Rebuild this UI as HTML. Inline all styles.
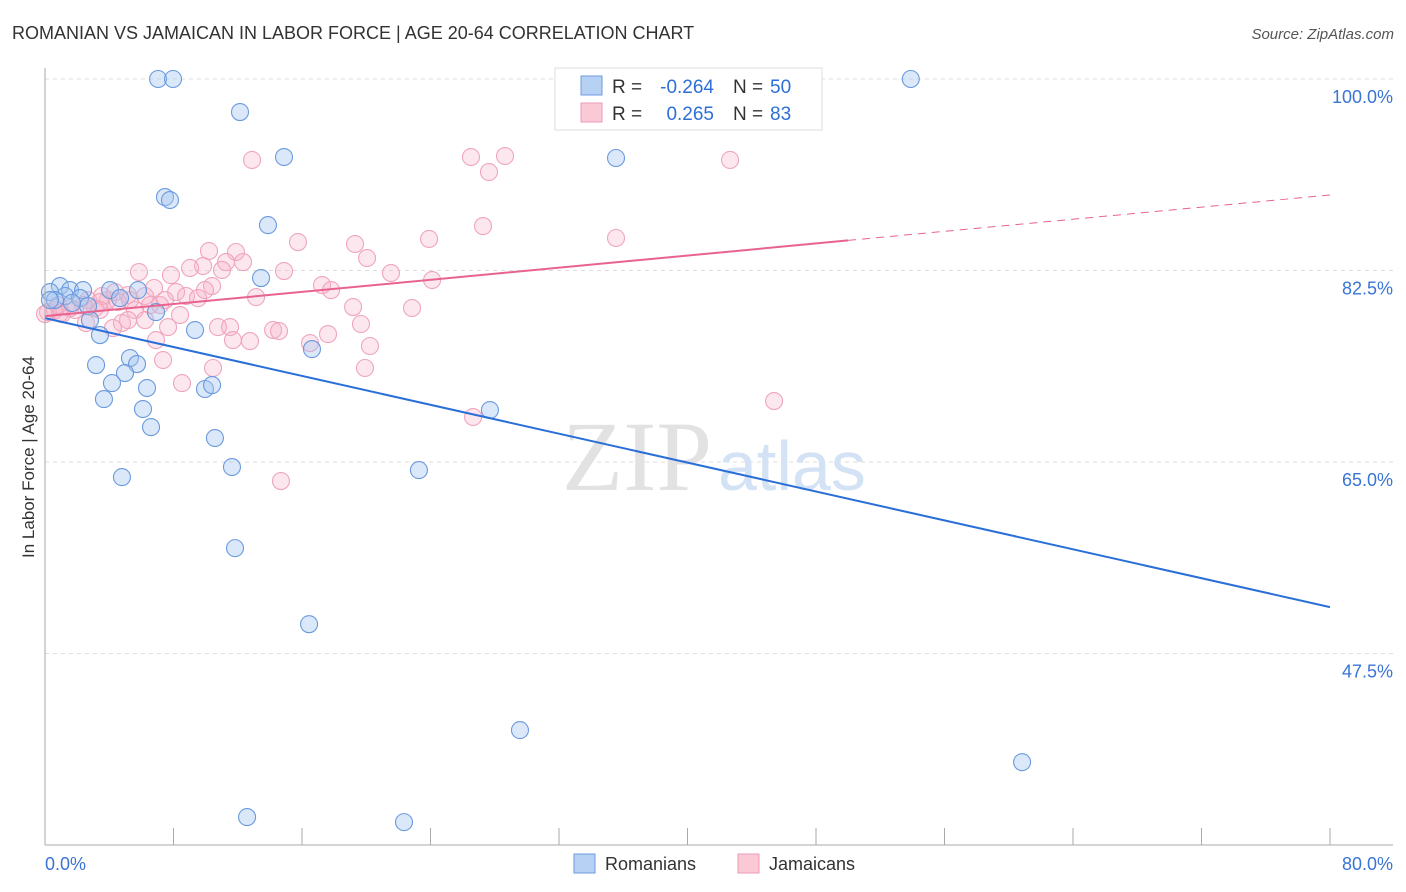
<!DOCTYPE html>
<html><head><meta charset="utf-8"><style>
body{margin:0;background:#fff;font-family:"Liberation Sans",sans-serif;}
svg{display:block}
</style></head><body>
<svg id="chart" width="1406" height="892" xmlns="http://www.w3.org/2000/svg">
<text x="12" y="39" font-size="18" fill="#333">ROMANIAN VS JAMAICAN IN LABOR FORCE | AGE 20-64 CORRELATION CHART</text>
<text x="1394" y="39" font-size="15" fill="#555" font-style="italic" text-anchor="end">Source: ZipAtlas.com</text>
<g id="grid"></g>
<text x="712" y="490" font-size="100" fill="#e2e2e2" text-anchor="end" font-family="Liberation Serif, serif">ZIP</text>
<text x="718" y="490" font-size="70" fill="#d3e2f4">atlas</text>
<g id="points"></g>
<g id="lines"></g>
<line x1="45" y1="68" x2="45" y2="845" stroke="#aaa"/>
<line x1="45" y1="845" x2="1393" y2="845" stroke="#aaa"/>
<g id="axes"></g>
<text transform="translate(34,457) rotate(-90)" font-size="17" fill="#333" text-anchor="middle">In Labor Force | Age 20-64</text>
<g>
<rect x="555" y="68" width="267" height="62" fill="#fff" stroke="#ddd"/>
<rect x="581" y="76" width="21" height="19" fill="#b7d1f5" stroke="#6c9be0"/>
<rect x="581" y="103" width="21" height="19" fill="#fbc8d6" stroke="#eb9bb4"/>
<text x="612" y="93" font-size="19" fill="#333">R =</text>
<text x="714" y="93" font-size="19" fill="#2e6fd6" text-anchor="end">-0.264</text>
<text x="733" y="93" font-size="19" fill="#333">N =</text>
<text x="770" y="93" font-size="19" fill="#2e6fd6">50</text>
<text x="612" y="120" font-size="19" fill="#333">R =</text>
<text x="714" y="120" font-size="19" fill="#2e6fd6" text-anchor="end">0.265</text>
<text x="733" y="120" font-size="19" fill="#333">N =</text>
<text x="770" y="120" font-size="19" fill="#2e6fd6">83</text>
</g>
<g>
<rect x="574" y="854" width="21" height="19" fill="#b7d1f5" stroke="#6c9be0"/>
<text x="605" y="870" font-size="18" fill="#333">Romanians</text>
<rect x="738" y="854" width="21" height="19" fill="#fbc8d6" stroke="#eb9bb4"/>
<text x="769" y="870" font-size="18" fill="#333">Jamaicans</text>
</g>
</svg>
<script>
const blueX=[7.04,7.97,53.9,12.14,14.88,35.55,7.47,7.78,13.88,13.45,0.93,0.31,1.56,2.37,4.05,1.25,2.18,0.62,4.67,2.68,5.79,6.91,2.80,3.42,9.34,16.62,5.29,5.73,3.18,4.98,4.17,6.35,9.96,10.4,3.67,6.1,27.7,6.6,10.58,11.64,4.79,23.28,11.83,16.44,29.57,60.83,12.58,22.35,0.31,1.68];
const blueY=[100,100,100,96.98,92.87,92.78,89.21,88.94,86.65,81.81,81.08,80.53,80.71,80.71,80.71,80.17,79.98,79.8,79.98,79.25,80.71,78.7,77.97,76.6,77.06,75.32,74.5,73.95,73.86,73.13,72.21,71.76,71.67,72.03,70.75,69.84,69.75,68.19,67.19,64.54,63.62,64.26,57.13,50.18,40.5,37.57,32.55,32.09,79.8,79.53];
const pinkX=[12.89,26.52,28.64,27.64,42.65,27.27,35.55,23.91,15.75,19.3,10.21,11.89,20.05,12.33,11.27,9.84,9.03,5.85,14.88,7.84,21.54,24.1,17.25,17.81,10.4,6.79,8.16,8.78,13.14,5.17,3.92,4.54,3.42,6.54,7.16,2.37,3.11,0.62,0.19,1.06,1.87,5.6,8.41,5.17,4.79,2.55,4.23,7.66,10.77,11.52,14.2,14.57,17.62,19.18,19.67,22.85,6.91,11.7,12.76,16.5,20.23,7.35,10.46,19.92,8.53,45.39,26.65,14.69,0.93,1.56,0,2.68,3.55,4.36,5.29,6.23,7.47,9.53,11.02,9.96,6.23,3.42,0.81];
const pinkY=[92.6,92.87,92.96,91.5,92.6,86.56,85.47,85.38,85.1,84.92,84.28,84.19,83.64,83.27,83.27,82.91,82.73,82.36,82.45,82.08,82.27,81.63,81.17,80.71,81.08,80.9,80.53,80.17,80.07,80.26,79.8,79.62,79.62,79.34,79.34,79.34,79.07,78.89,78.7,78.52,78.89,78.89,78.43,77.97,77.7,77.7,77.24,77.33,77.33,77.33,77.06,76.97,76.69,79.16,77.61,79.07,76.14,76.14,76.05,75.87,75.6,74.32,73.59,73.59,72.21,70.57,69.11,63.26,78.61,79.07,78.52,79.8,80.17,80.53,79.8,80.17,79.8,79.98,82.55,80.71,77.97,78.89,79.34];
const blueTrend=[78.15,51.74];
const pinkTrend=[78.33,89.4];
const pinkSolidEnd=50;
const yTicks=[100,82.5,65,47.5];
const yTickLabels=["100.0%","82.5%","65.0%","47.5%"];
const xTicks=[0,8,16,24,32,40,48,56,64,72,80];
const xEndLabels=["0.0%","80.0%"];
const NS="http://www.w3.org/2000/svg";
const xs=v=>45+v/80*1285;
const ys=v=>79+(100-v)*191.5/17.5;
function mk(tag,attrs,parent){const e=document.createElementNS(NS,tag);for(const k in attrs)e.setAttribute(k,attrs[k]);document.getElementById(parent).appendChild(e);return e;}
yTicks.forEach((t,i)=>{
 const g=mk('line',{x1:45,x2:1393,y1:ys(t),y2:ys(t),stroke:'#ddd','stroke-dasharray':'4,4'},'grid');
 
 
 const l=mk('text',{x:1393,y:ys(t)+24,'font-size':18,fill:'#3a74d4','text-anchor':'end'},'axes');
 l.textContent=yTickLabels[i];
 
 
});
xTicks.forEach(t=>{
 const k=mk('line',{x1:xs(t),x2:xs(t),y1:828,y2:845,stroke:'#aaa'},'axes');
 
 
});
const x0=mk('text',{x:45,y:870,'font-size':18,fill:'#3a74d4'},'axes');
x0.textContent=xEndLabels[0];


const x1=mk('text',{x:1393,y:870,'font-size':18,fill:'#3a74d4','text-anchor':'end'},'axes');
x1.textContent=xEndLabels[1];


pinkX.forEach((x,i)=>{
 const c=mk('circle',{cx:xs(x),cy:ys(pinkY[i]),r:8.5,fill:'rgba(247,175,198,0.3)',stroke:'#efa5bd','stroke-width':1.1},'points');
 
 
});
blueX.forEach((x,i)=>{
 const c=mk('circle',{cx:xs(x),cy:ys(blueY[i]),r:8.5,fill:'rgba(165,198,240,0.4)',stroke:'#6a9ade','stroke-width':1.1},'points');
 
 
});
const bl=mk('line',{x1:xs(0),y1:ys(blueTrend[0]),x2:xs(80),y2:ys(blueTrend[1]),stroke:'#2a6fd8','stroke-width':2},'lines');


const pm=pinkTrend[0]+(pinkTrend[1]-pinkTrend[0])*pinkSolidEnd/80;
const pl=mk('line',{x1:xs(0),y1:ys(pinkTrend[0]),x2:xs(pinkSolidEnd),y2:ys(pm),stroke:'#e8638e','stroke-width':2},'lines');


const pd=mk('line',{x1:xs(pinkSolidEnd),y1:ys(pm),x2:xs(80),y2:ys(pinkTrend[1]),stroke:'#e8638e','stroke-width':1,'stroke-dasharray':'8,6'},'lines');


</script>
</body></html>
